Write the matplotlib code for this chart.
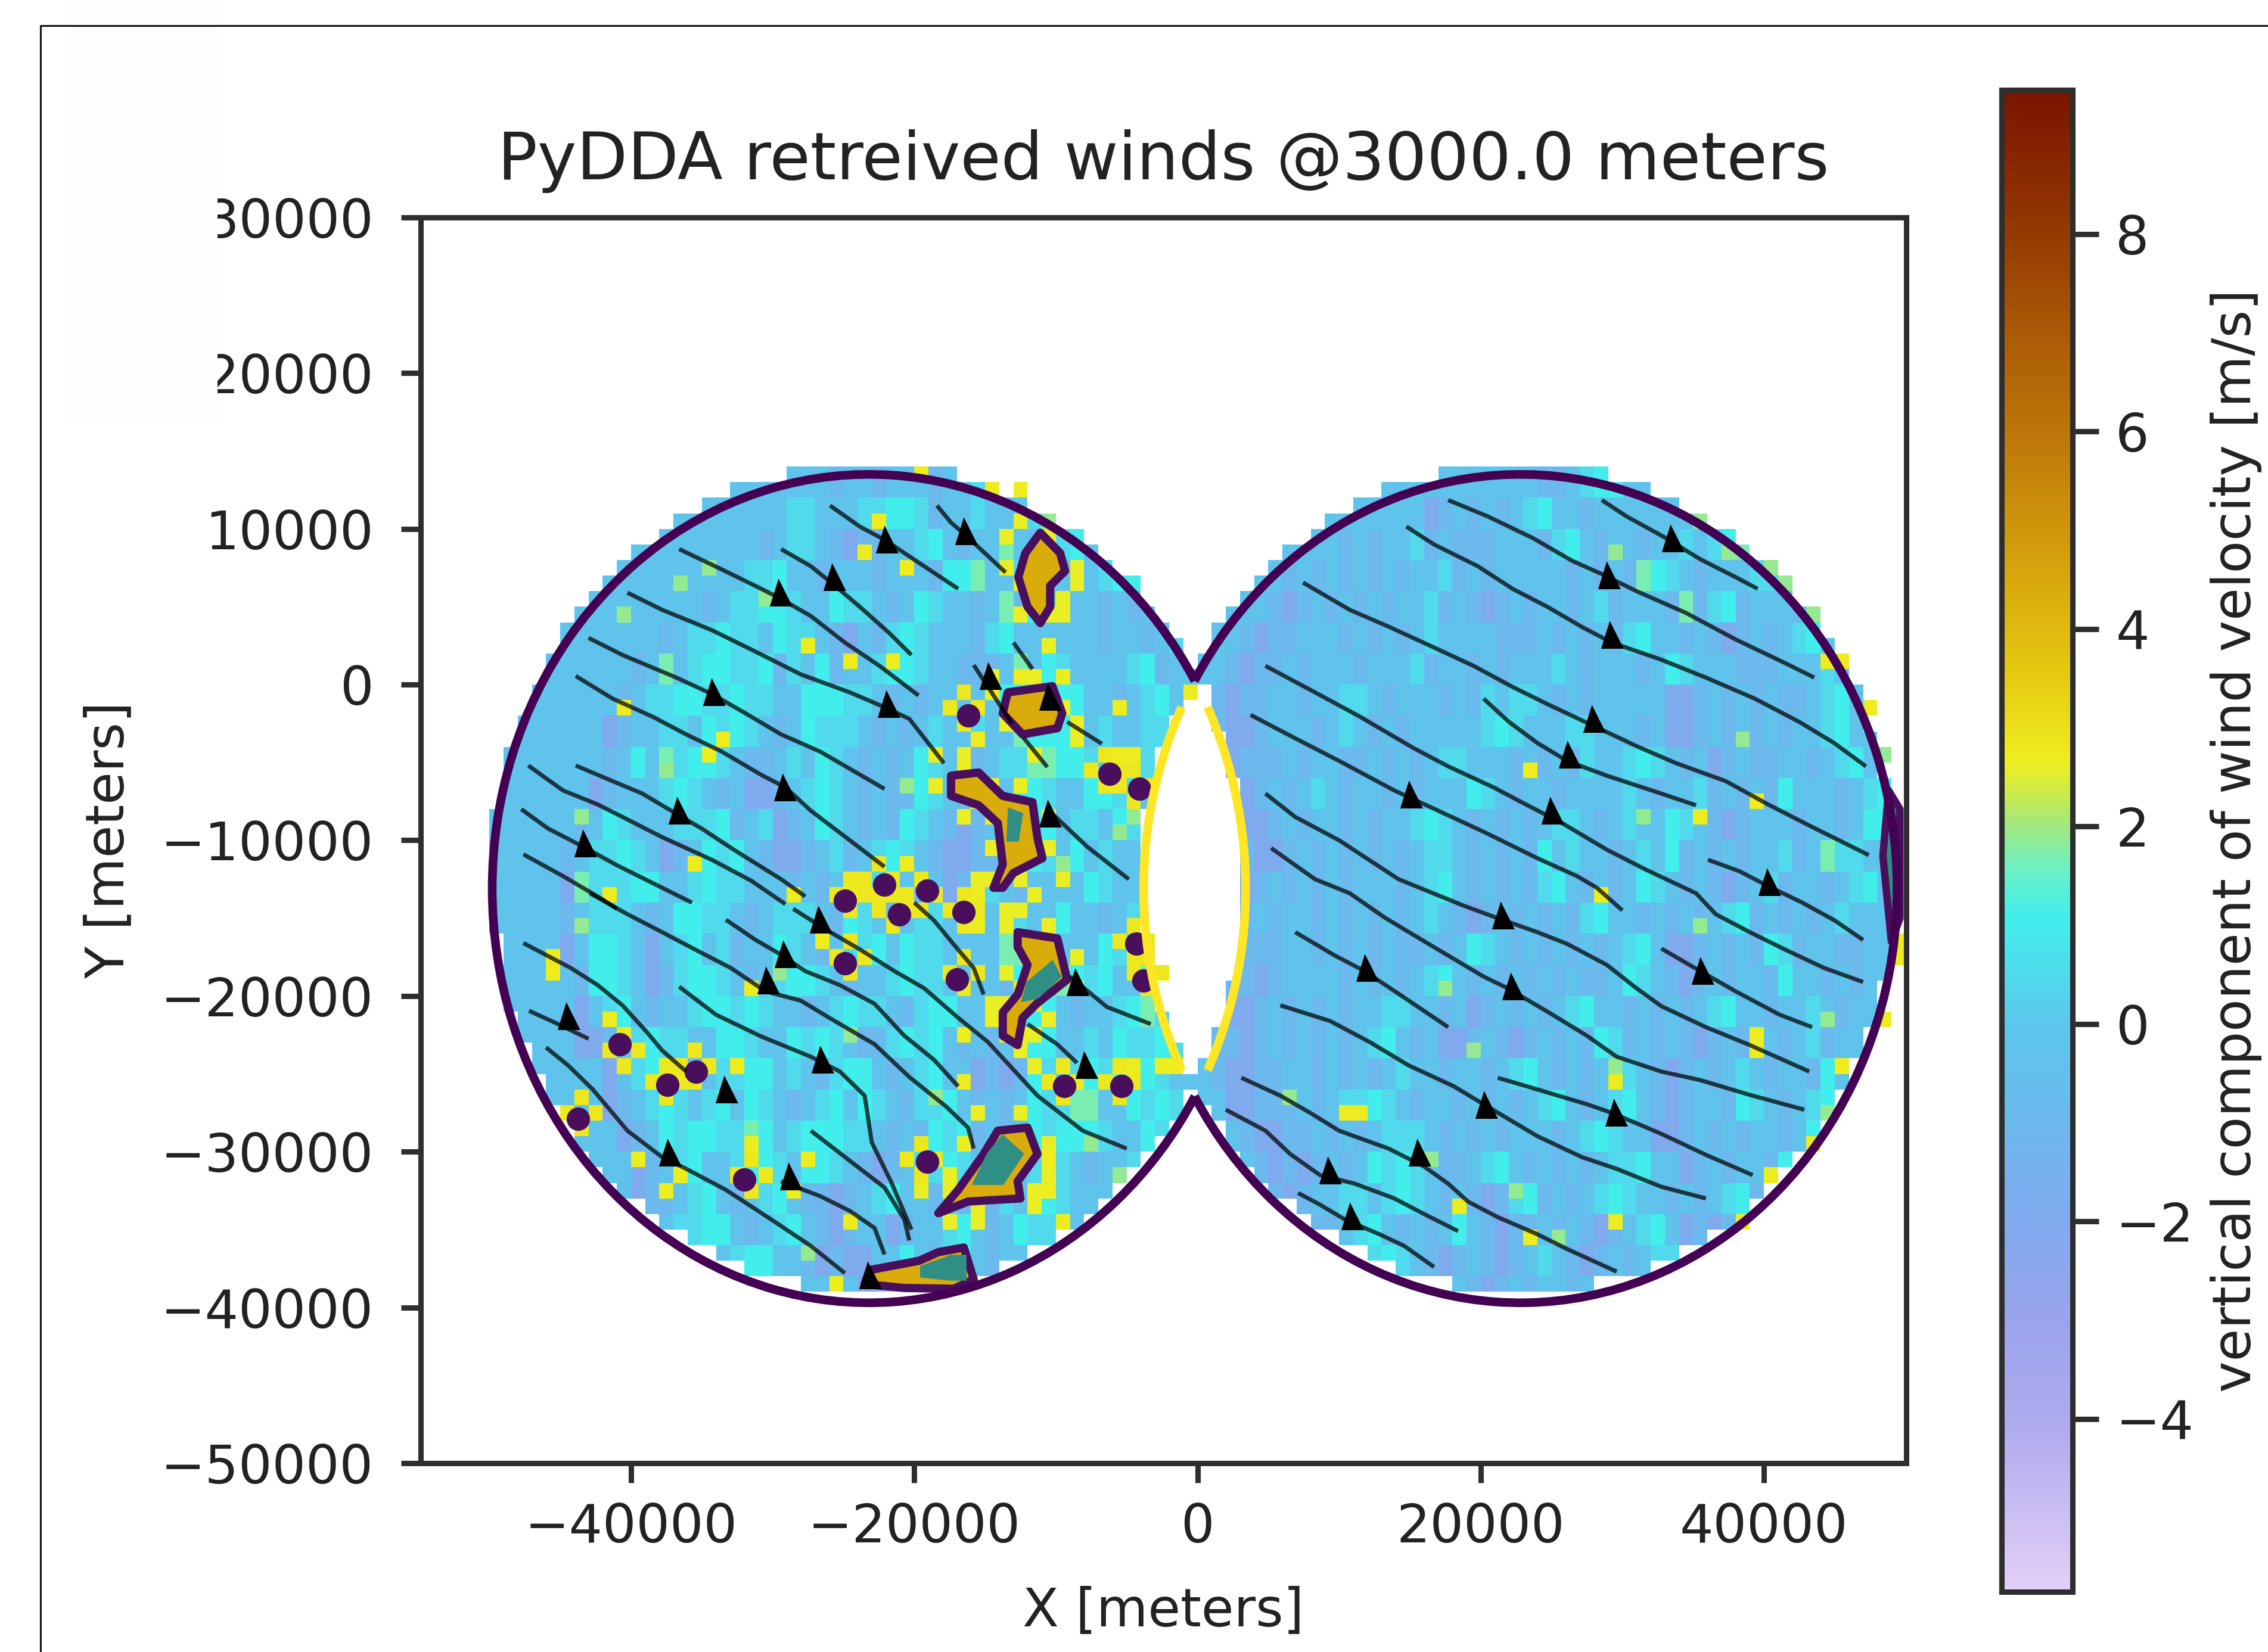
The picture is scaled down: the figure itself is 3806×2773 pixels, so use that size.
import numpy as np
import matplotlib
matplotlib.use("Agg")
import matplotlib.pyplot as plt
from matplotlib.colors import LinearSegmentedColormap, Normalize
from matplotlib.cm import ScalarMappable
from matplotlib.lines import Line2D
from matplotlib.patches import Arc, Rectangle

W, H = 3806, 2773

# w: 1 km wide, 2 km tall, y = 14 km downwards
code_values = {"a": -2.8, "b": -2.0, "c": -1.0, "d": -0.2, "e": 0.5, "f": 1.1, "g": 1.7}
w_left = [
    "ddddddddddddddddddddddddcddcdddcddeddccdddedddddddd",
    "dddddddddddddddddddddeedddeeffecddedddeefdeddddddd",
    "dddddddddddddddddddcdeedcbccddefdcddgdcdefdddefddd",
    "ddddddddddddddddddeefddcdddcdddcffgddedcdddeffdddd",
    "dddddddddddddddcdeeffeddfeedcdfeddcdgcfffddcdcdded",
    "ddddddddddddcdeefeedfeedcbdcefedddcefddddddcddcdee",
    "ddddddddddcdgdeffeefcedfcddeffeddcccdgdfeddddefcdd",
    "dddddddddcdeeffeefeeddfffeedcdcdddddffedffddcdefdd",
    "ddddddddbcddeedfefedcdfeeedcdcdeddeddgfffddeddeede",
    "ddddddddcdfdgeffedccdedfedcdcdfeddcdeeggffeddgeefd",
    "dddddddbcdddefedcdbbcdefedcdccfedcbcdefeddffeeddef",
    "ddddddcdfedddeeefcdebcdfedcdcfedcbcdcdffdeedfeegdd",
    "dddddcdeefedbcdfefdcbbcdecdefedcbbccdefedfdedddgfe",
    "dddddbgeeeffddefeedddcdcddfeddcdbcfedcddddfedddgfe",
    "dddddcdeeedcdffeedcdeeedcfedcdeeddcdeeddfddcdeeffd",
    "dddddbdffedbdefdecddfedcdeefdfeeddddggffdddfeeffdd",
    "ddddddcffedbceffedcdeffedcddefeeddddcfedgfefddgfed",
    "ddddddbdefdcddeffefeddcdefeedceffdddgeffdcddefgedd",
    "ddddddbbcdefeeddffeddfefedccefefdcdcdfffddedfeefed",
    "ddddddddbdeffdcdeeffdedceffdcdefddbcbcfedefeggfedd",
    "ddddddddbcdefedefdfedcdefdfedceefdcdcdfeeggddfefed",
    "dddddddddbcdfeffeegfdefffeedcdcfefcdcdfefffeddfefe",
    "ddddddddddbcdefddeffedffedcbcdeefedcddefedcddefeff",
    "ddddddddddbccdefdcdefdccbcdefddcdcdcedefedddcdffed",
    "dddddddddddcdeeffdcdefdcbcddbcddefdcdfeedddeffdddd",
    "dddddddddddddbccdeffddcbcbbddfdcefdcddffeffddddddd",
    "dddddddddddddddddcddcdddedbbcfddcdcddefeddddddddd",
    "ddddddddddddddddddddddddddddddddddddddddddddddddd",
]
w_right = [
    "ddddddddddddddddddddddddccdeffddddddddddddddddddddd",
    "ddddddddddddddddbcdcdcdefddcdddddddddddddddddddddd",
    "ddddddddddcdcddecdcccdddcefdcddcddedefgddddddddddd",
    "ddddddcdcdcdcdcddecdcdddddcdcdcgfedcdddeefdddddddd",
    "dddddcbcdcdcdcddecdcbcdcddcdecdddcgcefcdddcddddddd",
    "dddcbccdddcdcdcdeddddcccdcdcdcefddcdcbcdcdefdddddd",
    "ddcbccdcdddcdddecddcdcdddedcdddcdfedddcccdddedddddd",
    "dcbccddcddeedcdddcdcedeedcdcdddddbbcdcdcdccdefdddd",
    "dcbbcdddcdedcdcdddddefedddeedddcdbbcdcdcdcddefdddd",
    "dcbcccdcddccdcdcdeedddcdcdceddefedcdbcdccddcdefddd",
    "dddbcdcdedcddcdcdddfedcddcddddedcddecdcdcfdddcdefd",
    "dddbbcdcddcdcddefedcdcdcdeedcdeddfedcbcdddcddcdffd",
    "dddcbbcdcdcdcdcdeedcdcdcfdeddcdedfcdcdcddecdgeeddd",
    "ddbbcdcdcdcdddcdefdcdcdcefdcdcdfedcdcbcdecddcdefdd",
    "ddbcdcddcdcdcdcdedcbcdcdcdcefddcdcdcdefcdcdcdedddd",
    "ddbcccddcdcdcdccdcdfedcdcdcdcdefdbbcdcdcfecddccddd",
    "ddccbcddddcdcdcdefdcdcdcdcdccdfedcbcdcddcfddcdcddd",
    "dcbbcdcdcdcddeeddcdbcdcdcdefddcdcdcdefddcddedcdddd",
    "dccbcdcdcdcdefdcdbbcdcbcdcdcfecdcdcbcdcddcdecddddd",
    "dcbbccddcdcdcdeddcddcdefdcdcdfedcbcdcdedcddcfdcddd",
    "ddbbcccdcdeefedcddcdcdcdefdcdefdcbcddcfedcdefdcddd",
    "dddcbbccdcdcdeeedcdcdcdddcdefeddbbcdcdcddcdfedddd",
    "ddddcbcbcdcdfefedccdefdcdcdcdeefddbcdcddcfedcdddd",
    "dddddcbcddeedefedcdcbcefcdcdefeddcdcdefcdcdedddd",
    "ddddddcdccdefdcdcdfdcbccdcdcbcdefdbcbcdcfedddddd",
    "dddddddccbcdefedcbcdcbcdedcbcdcdeedcbcdcddddddd",
    "ddddddddddddcdbcdcdcbcdcddcdcdcbcdcdddddddddd",
    "dddddddddddddddddddddddddddddddddddddddddddddd",
]

# single brighter cells (km, km)
yellow_x = [-22.8, -20.9, -23.65, -27.85, -24.7, -21.75, -40.75, -33.8, -34.85, -15.5, -5.9, -0.65, -9.9, -12.3, -5.7, -4.65, -16.9, -20.9, -35.9, -28.75, -15.1, -24.55, -23.15, -41.8, -19.65, -14.8, -12.7, -26.8, -46, -45.85, -24.7, -31.9, -15.5, -16.9, -15, -17, -41.65, -32.75, -37.1, -16.9, -2.9, -1.5, -4.3, -42.7, -31.7, -31.2, -27.9, -39.7, -36.75, -18.8, -10.8, -24.7, -9.4, -10.8, -28.75, -37.8, -25.25, 23, 35.2, 39.2, 28.2, 44.4, 45.65, 47.55, 39.2, 39.2, 29.6, 11.6, 10.6, 18.25, 29.25, 23.7, 40.9, 43, 38.15, 45.8, 48.8, 49.5, 49.5]
yellow_y = [10.4, 7.4, 8.3, 2.45, 1.6, 1.3, -1.85, -3.45, -4.5, -3.35, -1.65, -0.6, 0.55, 0.65, -4.5, -4.5, -5.35, -11.55, -11.55, -13.4, -13.4, -13.4, -13.4, -13.25, 13.85, 12.7, 12.05, -16.65, -17.9, -18.6, -18.55, -19.3, -15.5, -19.5, -20.5, -22.55, -21.6, -24.45, -25.25, -25.4, -24.45, -24.1, -24.45, -27.7, -29.4, -30.45, -30.55, -30.55, -31.6, -30.35, -30.35, -34.45, -34.45, -32.65, -32.8, -32.8, -38.5, -5.55, -8.4, -7.65, -13.6, 1.6, 1.75, -1.25, -22.95, -23.7, -25.6, -27.6, -27.6, -33.6, -34.35, -35.6, -31.5, -29.4, -34.2, -24.65, -21.6, -17, -18]
green_x = [-30.8, -10.6, -36.75, -40.75, -34.65, -4.65, -5.9, -9.9, 29.1, 35.35, 17.2, 19.3, 29.6, -44, -38, -24.5, -18.2, -7.5, -6, -27.6, -30, -20.2, -43.5, 6.4, 16.8, 31.4, 38.6, 44.2, 44, 22, 25.4, 35.35, 37.6, 40.4, 41.5, 43.4, 45.3, 47.6, 48.6]
green_y = [5.5, 10.9, 6.5, 4.4, 7.4, -8.3, -9.6, -11.6, 8.35, -15.5, -19.5, -23.6, -24.65, -8.2, -5.6, -22.4, -26.2, -29.4, -32, -37, -18.5, -7, -16, -26.8, -30.4, -9, -4, -22, -28, -33, -36, 10.9, 8.8, 7.6, 6.9, 4.8, 1.95, -1.5, -4.3]

# small updraft spots (km, km)
spot_x = [-16.2, -6.2, -4.1, -22.1, -19.1, -24.9, -16.5, -21.05, -24.9, -17, -4.3, -3.8, -40.8, -35.4, -37.45, -43.75, -32, -9.4, -5.35, -19.1]
spot_y = [-2, -5.75, -6.7, -12.85, -13.25, -13.9, -14.6, -14.75, -17.9, -18.95, -16.65, -19, -23.1, -24.85, -25.7, -27.9, -31.8, -25.8, -25.8, -30.65]

# larger updraft outlines (km)
blob_outlines = [
    [(-11.1, 9.75), (-9.7, 8.45), (-9.35, 7.3), (-10.4, 6.35), (-10.4, 5), (-11.1, 3.95), (-12, 5), (-12.65, 6.9), (-12.15, 8.45)],
    [(-13.4, -0.5), (-10.25, -0.1), (-9.55, -1.85), (-9.9, -2.8), (-12.35, -3.2), (-13.75, -1.85)],
    [(-17.4, -5.85), (-15.45, -5.65), (-13.75, -7.15), (-11.65, -7.55), (-11.3, -9.85), (-10.95, -11.15), (-13, -12.1), (-13.75, -13.05), (-14.4, -13.05), (-13.75, -11.55), (-14.1, -8.9), (-15.45, -7.75), (-17.4, -7.15)],
    [(-12.7, -15.9), (-9.9, -16.3), (-9.2, -18.95), (-11.3, -20.45), (-12.35, -21.4), (-12.7, -23.15), (-13.75, -22.55), (-13.75, -21.05), (-12.7, -19.9), (-12, -18), (-12.7, -16.85)],
    [(-14.1, -28.65), (-12, -28.45), (-11.3, -30.15), (-12.7, -31.9), (-12.5, -33), (-16.2, -33.2), (-18.3, -33.95), (-16.9, -32.45), (-15.1, -30.15)],
    [(-18.3, -36.45), (-16.5, -36.15), (-15.8, -38.2), (-17.2, -38.8), (-20.7, -38.75), (-23.5, -38.5), (-23.15, -37.6), (-19.65, -37)],
]
blob_cores = [
    [(-13.3, -8), (-12.4, -8.3), (-12.7, -10), (-13.4, -10)],
    [(-10.25, -17.8), (-9.7, -18.75), (-11.3, -20.1), (-12.35, -20.3), (-12, -19.15)],
    [(-13.75, -29), (-12.35, -30.15), (-13.75, -32.05), (-15.8, -32.05), (-14.8, -30.15)],
    [(-17.4, -36.7), (-16.4, -36.7), (-16.4, -38.2), (-17.5, -38.2), (-19.5, -38), (-19.5, -37.4)],
]
edge_cell_x = [48.8, 49.6, 49.6, 49.0, 48.4]
edge_cell_y = [-6.8, -8.0, -15.0, -16.5, -11.0]

# streamlines (km)
stream_left = [
    [(-25.95, 11.5), (-23.85, 10.15), (-22.1, 9.3), (-19.3, 7.6), (-16.9, 6.15)],
    [(-18.4, 11.5), (-17.4, 10.4), (-16.5, 9.7), (-13.55, 7.2)],
    [(-29.4, 8.7), (-27.3, 7.6), (-25.8, 6.5), (-23.85, 5), (-21.75, 3.3), (-20.2, 1.9)],
    [(-36.6, 8.7), (-33.6, 7.4), (-30.8, 6.15), (-29.4, 5.5), (-27.3, 4.4), (-24.9, 2.7), (-22.45, 1.2), (-19.7, -0.7)],
    [(-40.25, 5.9), (-37.8, 4.8), (-34.3, 3.5), (-31.5, 2.25), (-28, 0.65), (-24.55, -0.5), (-22.1, -1.45), (-20.35, -2.2), (-17.9, -5.05)],
    [(-43, 3), (-40.6, 1.9), (-36.8, 0.45), (-34.3, -0.6), (-31.9, -1.85), (-29.4, -3.2), (-26.65, -4.3), (-22.1, -6.7)],
    [(-43.9, 0.55), (-41.3, -0.9), (-38.5, -2.05), (-36.1, -3.2), (-33.6, -4.3), (-30.8, -5.8), (-29.1, -6.6), (-27.3, -8.1), (-24.55, -10), (-22.1, -11.7)],
    [(-43.9, -5.2), (-41.3, -6.2), (-39.2, -7), (-36.8, -8.3), (-35, -9.25), (-32.75, -10.6), (-29.4, -12.5), (-27.7, -13.6)],
    [(-47.25, -5.2), (-44.8, -6.8), (-42.35, -7.7), (-40.6, -8.5), (-37.8, -9.8), (-34.3, -11.25), (-31.5, -12.6), (-29.1, -14.1)],
    [(-47.75, -8), (-45.85, -9.25), (-43.4, -10.4), (-41, -11.6), (-35.7, -14)],
    [(-47.6, -10.9), (-44.8, -12.3), (-42, -13.8), (-41, -14.4)],
    [(-15.8, 1.25), (-13.1, -2.5)],
    [(-13, 2.7), (-11.65, 1)],
    [(-12.3, -3.4), (-10.6, -5.3)],
    [(-9.2, -2.4), (-6.75, -3.8)],
    [(-10.25, -8.3), (-7.8, -10.4), (-4.85, -12.5)],
    [(-47.6, -16.6), (-44.25, -18.2), (-42.35, -19.3), (-40.6, -20.6), (-38.9, -22.3), (-37.8, -23.5), (-36.1, -24.85)],
    [(-47.2, -20.95), (-45.15, -21.8), (-43, -22.75)],
    [(-46, -23.3), (-44.45, -24.45), (-42.7, -26), (-40.25, -28.65), (-37.8, -30.35), (-36.1, -31.1), (-33.3, -32.45), (-30.1, -34.35), (-27.3, -36.05), (-24.9, -37.8)],
    [(-36.6, -19.4), (-34, -21.2), (-30.8, -22.6), (-27.3, -23.9), (-25.25, -24.85), (-23.5, -26.4), (-23, -29.4), (-21.6, -32), (-20.2, -35)],
    [(-42.9, -13.4), (-40.25, -14.75), (-37.8, -15.9), (-35.4, -17.05), (-32.95, -18.2), (-30.5, -19.7), (-28, -20.3), (-26, -21.4), (-22.8, -23.1), (-20.35, -25.2), (-17.75, -27.1), (-16.2, -28.45), (-15.8, -29.8)],
    [(-33.3, -15.1), (-31.2, -16.4), (-29.4, -17.35), (-27.7, -18.4), (-25.25, -19.3), (-22.8, -20.5), (-20.7, -22.55), (-18.6, -24.1), (-16.9, -25.8)],
    [(-28.55, -14.4), (-26.3, -15.7), (-23.85, -17), (-21.4, -18.4), (-19.3, -19.5), (-16.9, -21.4), (-14.8, -22.95), (-11.3, -26.4), (-8.1, -28.65), (-5, -29.8)],
    [(-20, -14), (-18.6, -15.15), (-17.2, -16.7), (-15.8, -18.2), (-15.1, -19.9)],
    [(-12, -21.8), (-9.9, -23.1), (-8.5, -24.3)],
    [(-9, -18.75), (-6.4, -20.7), (-3.3, -21.8)],
    [(-27.3, -28.65), (-22.1, -32.3), (-20.7, -34.35), (-20.35, -35.7)],
    [(-29.4, -31.9), (-26.65, -32.85), (-24.55, -33.8), (-22.8, -34.9), (-22.1, -36.6)],
]
stream_right = [
    [(17.7, 11.85), (20.5, 10.8), (23.7, 9.4), (26.45, 7.95), (28.55, 7.1), (31, 6), (34.5, 4.6), (38, 2.9), (41.45, 1.4), (43.55, 0.45)],
    [(28.55, 11.85), (30.3, 10.8), (33.1, 9.4), (35.5, 8.05), (38, 6.9), (39.55, 6.15)],
    [(14.75, 10.15), (16.7, 9), (19.8, 7.6), (22.25, 6.15), (24.7, 5), (27.15, 3.7), (29.25, 2.7), (32.75, 1.6), (35.9, 0.45), (39.35, -0.9), (42.5, -2.4), (44.95, -3.75), (47.2, -5.25)],
    [(7.45, 6.55), (10.75, 4.8), (13.55, 3.7), (16.3, 2.55), (19.5, 1.2), (22.25, -0.15), (24.7, -1.25), (27.85, -2.6), (31, -3.95), (33.8, -5.05), (37.3, -6.2), (40.4, -7.75), (43.2, -9.05), (47.4, -10.95)],
    [(4.8, 1.2), (8.3, -0.5), (11.45, -2.05), (15.3, -4.1), (17.7, -5.25), (20.9, -6.6), (23.3, -7.75), (25.75, -8.9), (28.9, -10.6), (31.7, -11.9), (35.2, -13.4), (36.6, -14.75), (39, -15.9), (41.45, -17), (44.25, -18.2), (47, -19.1)],
    [(3.75, -1.95), (6.9, -3.45), (10, -4.9), (13.9, -6.8), (17, -8.1), (20.2, -9.45), (24, -11.15), (26.8, -12.3), (28.2, -13.05), (30, -14.5)],
    [(20.2, -0.9), (22, -2.4), (24, -3.75), (26.1, -4.9), (28.9, -5.85), (32.75, -7), (35.2, -7.75)],
    [(4.8, -7), (6.9, -8.5), (10, -10), (14.2, -12.5), (18.8, -14.2), (21.2, -15), (24, -15.9), (26.1, -16.65), (28.9, -18), (31, -19.5), (32.75, -20.65), (35.9, -22), (39, -23.15), (43.2, -24.85)],
    [(5.2, -10.5), (8.3, -12.5), (10.75, -13.4), (13.2, -14.95), (15.3, -16.1), (17.7, -17.4), (20.2, -18.75), (21.9, -19.5), (24.7, -21), (27.5, -22.55), (29.6, -23.9), (32.75, -24.85), (35.5, -25.4), (39, -26.35), (42.85, -27.3)],
    [(36.05, -11.25), (38.3, -12), (40.2, -12.9), (42.7, -14), (45, -15.15), (47, -16.4)],
    [(32.75, -16.95), (35.5, -18.4), (38, -19.7), (41.1, -21.2), (43.4, -22)],
    [(6.9, -15.9), (9.7, -17.4), (11.8, -18.4), (14.6, -20.1), (17.7, -22)],
    [(5.85, -20.6), (9.35, -21.6), (12.15, -22.95), (14.9, -24.45), (18.1, -25.8), (20.2, -26.95), (24, -29), (27.15, -30.35), (29.6, -31.1), (32.75, -32.25), (35.9, -33)],
    [(21.2, -25.25), (24, -26), (27.5, -26.95), (29.25, -27.5), (32.75, -28.85), (35.9, -30.2), (39.2, -31.5)],
    [(3.1, -25.25), (5.85, -26.4), (7.95, -27.5), (10, -28.65), (13.5, -29.8), (16, -30.95), (17.7, -32.05), (19.1, -33.2), (21.2, -34.2), (24, -35.3), (26.1, -36.25), (29.6, -37.7)],
    [(2, -27.3), (4.8, -28.65), (6.55, -30.15), (8.65, -31.5), (11.1, -32.05), (13.9, -33), (16, -34), (18.4, -35.1)],
    [(7.1, -32.65), (8.65, -33.4), (10.4, -34.35), (12.85, -35.3), (14.6, -36.05), (16.7, -37.4)],
]
arrow_x = [-22.1, -16.5, -25.8, -29.6, -14.8, -34.3, -22, -10.6, -29.3, -36.75, -10.6, -43.4, -26.8, -29.25, -30.5, -44.6, -26.65, -33.45, -8.65, -8, -37.45, -28.9, -23.3,
           33.4, 28.9, 29.1, 27.85, 26.1, 14.9, 24.9, 40.2, 21.4, 35.5, 11.8, 22.1, 20.2, 29.4, 15.5, 9.2, 10.75]
arrow_y = [9.1, 9.65, 6.7, 5.7, 0.35, -0.7, -1.45, -1, -6.8, -8.3, -8.5, -10.4, -15.3, -17.5, -19.2, -21.5, -24.3, -26.2, -19.3, -24.65, -30.25, -31.8, -38.15,
           9.2, 6.8, 3, -2.4, -4.7, -7.25, -8.3, -12.9, -15.05, -18.6, -18.4, -19.6, -27.2, -27.7, -30.25, -31.4, -34.35]

# radar coverage circles (km)
left_center = (-23.2, -13.1)
right_center = (22.8, -13.1)
radius = 26.6

cbar_values = [-5.75, -4.1, -3, -2, -1, 0, 0.55, 1.1, 1.6, 2.0, 2.3, 2.65, 3.5, 4.5, 5.8, 7, 8, 9.46]
cbar_colors = ["#e3d0f7", "#b0aaee", "#9aa4ec", "#80aaee", "#6cb9ee", "#5cc6ec", "#4fdcec", "#42eeec", "#6ff0c0",
               "#a0e880", "#c8ea50", "#eeee20", "#e6cb10", "#d8a80c", "#c07c0a", "#ab5a06", "#953a02", "#7a1400"]
vmin, vmax = cbar_values[0], cbar_values[-1]
cmap = LinearSegmentedColormap.from_list(
    "wind", [((v - vmin) / (vmax - vmin), c) for v, c in zip(cbar_values, cbar_colors)], N=512)
norm = Normalize(vmin, vmax)

x_edges = np.arange(-50, 51)
y_edges = np.arange(-41, 15)
x_mid = x_edges[:-1] + 0.5
y_mid = y_edges[:-1] + 0.5

w = np.zeros((len(y_mid), len(x_mid)))
for j, y in enumerate(y_mid):
    r = min(int((14 - y) // 2), len(w_left) - 1)
    for i, x in enumerate(x_mid):
        if x < 0:
            row, k = w_left[r], int(x + 50)
        else:
            row, k = w_right[r], int(x)
        w[j, i] = code_values[row[min(k, len(row) - 1)]]

# cells only exist where exactly one radar sees them
xx, yy = np.meshgrid(x_mid, y_mid)
in_left = (xx - left_center[0]) ** 2 + (yy - left_center[1] - 0.7) ** 2 < radius ** 2
in_right = (xx - right_center[0]) ** 2 + (yy - right_center[1] - 0.7) ** 2 < radius ** 2
covered = in_left ^ in_right


def put(xs, ys, value):
    for x, y in zip(xs, ys):
        i = int(np.clip(np.floor(x) + 50, 0, len(x_mid) - 1))
        j = int(np.clip(np.floor(y) + 41, 0, len(y_mid) - 1))
        w[j, i] = value
        covered[j, i] = True


put(green_x, green_y, 1.9)
put(yellow_x, yellow_y, 2.7)
for sx, sy in zip(spot_x, spot_y):
    put([sx - 1, sx + 1, sx, sx], [sy, sy, sy + 1, sy - 1], 2.8)
# the lowest outline sits on the circle edge and has no fringe
for outline in blob_outlines[:-1]:
    for px, py in outline:
        put([px - 1, px + 1], [py + 1, py - 1], 2.6)
w = np.ma.masked_where(~covered, w)

fig = plt.figure(figsize=(W / 100, H / 100), dpi=100)
fig.add_artist(Rectangle((118 / W, 1 - 705 / H), 247 / W, 705 / H, transform=fig.transFigure, color="#fdfdfb", lw=0))
fig.add_artist(Line2D([68 / W, 68 / W, 1], [0, 1 - 43 / H, 1 - 43 / H], transform=fig.transFigure, color="#111111", lw=2.2))

ax = fig.add_axes([706 / W, 1 - 2456 / H, (3199 - 706) / W, (2456 - 365) / H])
ax.pcolormesh(x_edges * 1000, y_edges * 1000, w, cmap=cmap, norm=norm, antialiased=False, zorder=1)

gold = cmap(norm(4.4))
teal = "#2f8f84"
purple = "#4a0f5c"
for outline in blob_outlines:
    pts = np.array(outline) * 1000
    ax.fill(pts[:, 0], pts[:, 1], facecolor=gold, edgecolor=purple, lw=10, joinstyle="round", zorder=2)
for core in blob_cores:
    pts = np.array(core) * 1000
    ax.fill(pts[:, 0], pts[:, 1], facecolor=teal, edgecolor=teal, lw=3, zorder=3)
ax.fill(np.array(edge_cell_x) * 1000, np.array(edge_cell_y) * 1000, facecolor=teal, edgecolor=purple, lw=9, joinstyle="round", zorder=3)
ax.scatter(np.array(spot_x) * 1000, np.array(spot_y) * 1000, s=800, color=purple, zorder=3, lw=0)

for line in stream_left + stream_right:
    pts = np.array(line) * 1000
    ax.plot(pts[:, 0], pts[:, 1], color="black", alpha=0.72, lw=5, zorder=4, solid_capstyle="butt")
arrow_shape = [(0, 1), (-0.5, -0.6), (0.8, -0.6), (0, 1)]
ax.plot(np.array(arrow_x) * 1000, np.array(arrow_y) * 1000, ls="none", marker=arrow_shape, ms=42, color="black", mew=0, zorder=5)

# coverage limits and the cross-beam lens
arc_size = 2000 * radius
for center, t1, t2, color in [(left_center, 30.1, 329.9, "#440154"), (right_center, -149.9, 149.9, "#440154"),
                              (left_center, -26, 26, "#fde725"), (right_center, 154, 206, "#fde725")]:
    ax.add_patch(Arc((center[0] * 1000, center[1] * 1000), arc_size, arc_size, theta1=t1, theta2=t2,
                     color=color, lw=10.5, zorder=6))

ax.set_xlim(-54850, 50050)
ax.set_ylim(-50000, 30000)
ax.set_xticks([-40000, -20000, 0, 20000, 40000])
ax.set_yticks([-50000, -40000, -30000, -20000, -10000, 0, 10000, 20000, 30000])
ax.tick_params(length=24, width=6.5, labelsize=64, labelcolor="#222222", color="#2e2e2e")
ax.tick_params(axis="x", pad=23)
ax.tick_params(axis="y", pad=33)
for s in ax.spines.values():
    s.set_linewidth(6.5)
    s.set_color("#2e2e2e")
ax.set_title("PyDDA retreived winds @3000.0 meters", fontsize=80, pad=46, color="#222222")
ax.set_xlabel("X [meters]", fontsize=64, labelpad=38, color="#222222")
ax.set_ylabel("Y [meters]", fontsize=64, labelpad=31, color="#222222")

cax = fig.add_axes([3359 / W, 1 - 2672 / H, (3478 - 3359) / W, (2672 - 151) / H])
cb = fig.colorbar(ScalarMappable(norm=norm, cmap=cmap), cax=cax)
cb.set_ticks([-4, -2, 0, 2, 4, 6, 8])
cb.ax.tick_params(length=32, width=6.5, labelsize=64, pad=20, labelcolor="#222222", color="#2e2e2e")
cb.outline.set_linewidth(6.5)
cb.outline.set_edgecolor("#2e2e2e")
cb.set_label("vertical component of wind velocity [m/s]", fontsize=64, labelpad=20, color="#222222")

fig.savefig("out.png", dpi=100)
